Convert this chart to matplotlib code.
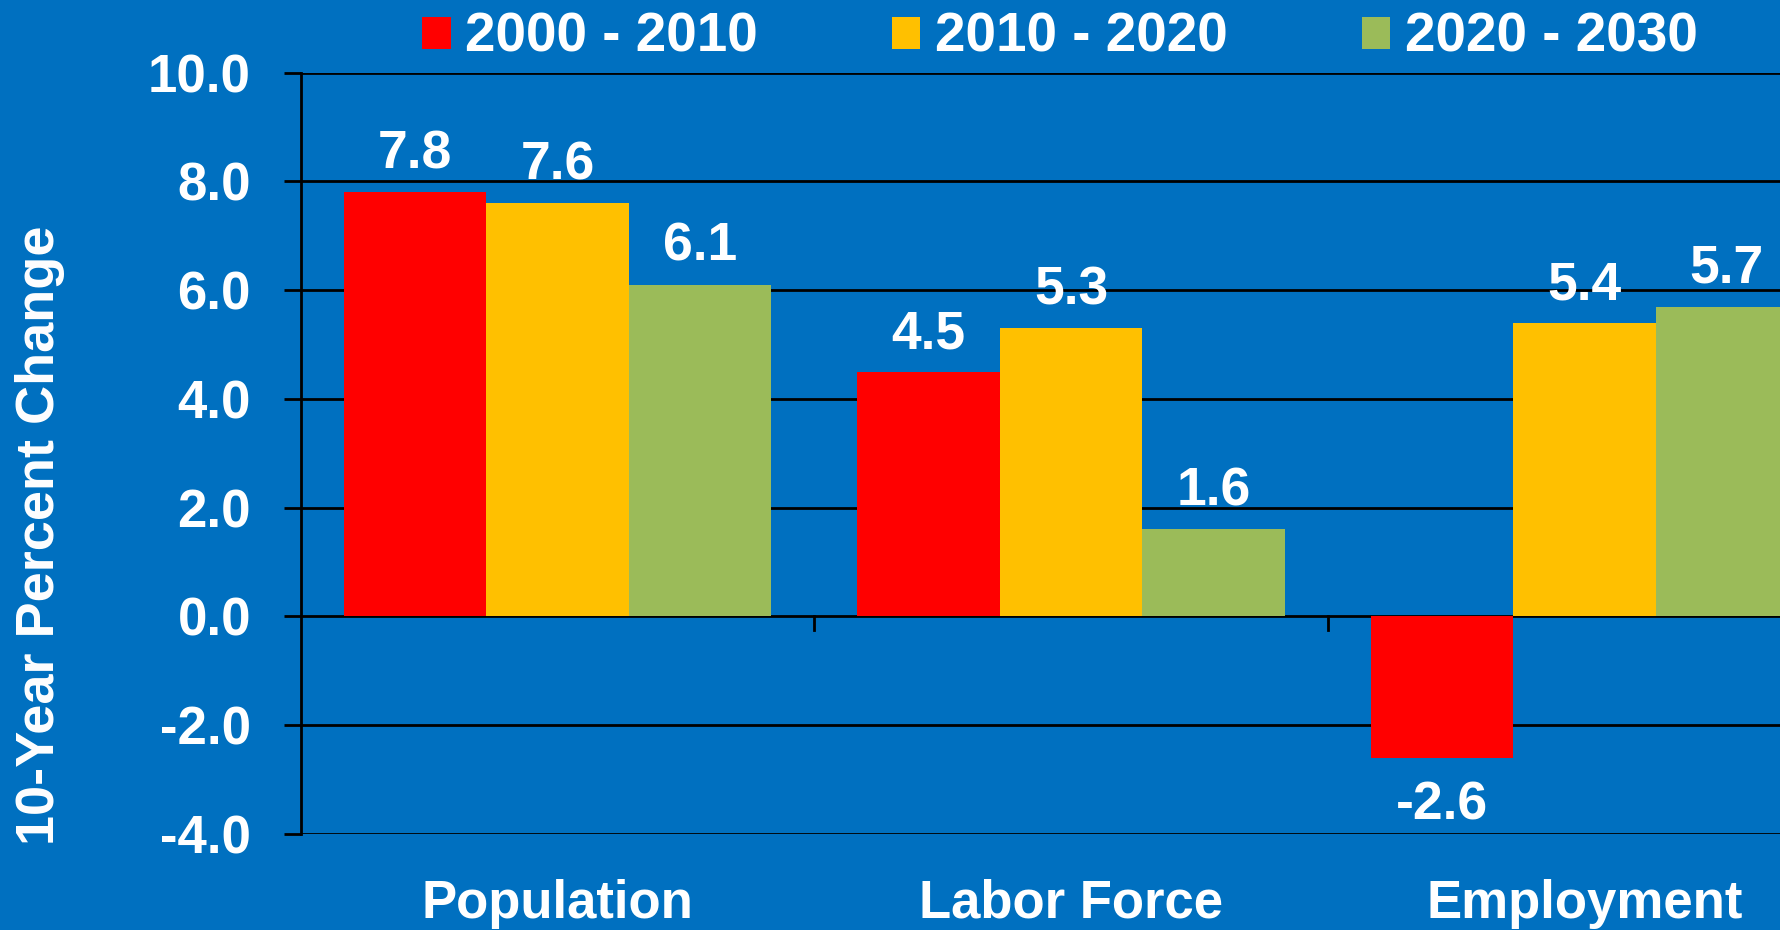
import matplotlib
matplotlib.use("Agg")
import matplotlib.pyplot as plt
import matplotlib.transforms as mtransforms
import numpy as np
from matplotlib.patches import Patch

categories = ["Population", "Labor Force", "Employment"]
series_labels = ["2000 - 2010", "2010 - 2020", "2020 - 2030"]
s2000_2010 = [7.8, 4.5, -2.6]
s2010_2020 = [7.6, 5.3, 5.4]
s2020_2030 = [6.1, 1.6, 5.7]
yticks = [-4.0, -2.0, 0.0, 2.0, 4.0, 6.0, 8.0, 10.0]
ylabel = "10-Year Percent Change"

BG = "#0070C0"
colors = ["#FF0000", "#FFC000", "#9BBB59"]
FONT = "Liberation Sans"

W, H = 1781, 930
fig = plt.figure(figsize=(W / 100, H / 100), dpi=100, facecolor=BG)
ax = fig.add_axes([301 / W, 1 - 834 / H, (1841 - 301) / W, (834 - 72.7) / H])
ax.set_facecolor(BG)

x = np.arange(len(categories)) + 0.5
bw = 0.2777
series = [s2000_2010, s2010_2020, s2020_2030]
for i, (vals, c) in enumerate(zip(series, colors)):
    pos = x + (i - 1) * bw
    ax.bar(pos, vals, width=bw, color=c, zorder=3, linewidth=0)
    for px, v in zip(pos, vals):
        off = 27.2 if v >= 0 else -34.5
        ax.annotate(f"{v:.1f}", (px, v), xytext=(0, off), textcoords="offset points",
                    ha="center", va="center", color="white", fontsize=38.5,
                    fontweight="bold", family=FONT, zorder=4)

ax.set_xlim(0, 3)
ax.set_ylim(-4, 10)
ax.set_yticks(yticks)
ax.set_yticklabels([f"{t:.1f}" for t in yticks])
for t in yticks:
    ax.axhline(t, color="black", linewidth=2, zorder=2)

for s in ["top", "right", "bottom"]:
    ax.spines[s].set_visible(False)
ax.spines["left"].set_color("black")
ax.spines["left"].set_linewidth(2)
ax.spines["left"].set_zorder(5)

ax.tick_params(axis="y", direction="out", length=12, width=2, color="black",
               labelcolor="white", labelsize=38, pad=24)
for lab in ax.get_yticklabels():
    lab.set_fontweight("bold")
    lab.set_family(FONT)

# x axis: tick marks at zero line between categories
ax.set_xticks([])
for b in [1, 2]:
    ax.plot([b, b], [0, -0.25], color="black", linewidth=2, zorder=5, clip_on=False)

cat_tr = ax.transData + mtransforms.ScaledTranslation(0, -70 / 100, fig.dpi_scale_trans)
for cx, name in zip(x, categories):
    ax.text(cx, -4, name, transform=cat_tr, ha="center", va="center",
            color="white", fontsize=38, fontweight="bold", family=FONT)

fig.text(40 / W, 1 - 535 / H, ylabel, rotation=90, ha="center", va="center",
         color="white", fontsize=39, fontweight="bold", family=FONT)

handles = [Patch(facecolor=c, edgecolor="none") for c in colors]
leg = fig.legend(handles, series_labels, ncol=3, loc="center left",
                 bbox_to_anchor=(422 / W, 1 - 38 / H), frameon=False,
                 handlelength=0.52, handleheight=0.52, handletextpad=0.27,
                 columnspacing=2.44, borderpad=0, borderaxespad=0,
                 prop={"family": FONT, "weight": "bold", "size": 39.5})
for t in leg.get_texts():
    t.set_color("white")

fig.savefig("out.png", dpi=100, facecolor=BG)
